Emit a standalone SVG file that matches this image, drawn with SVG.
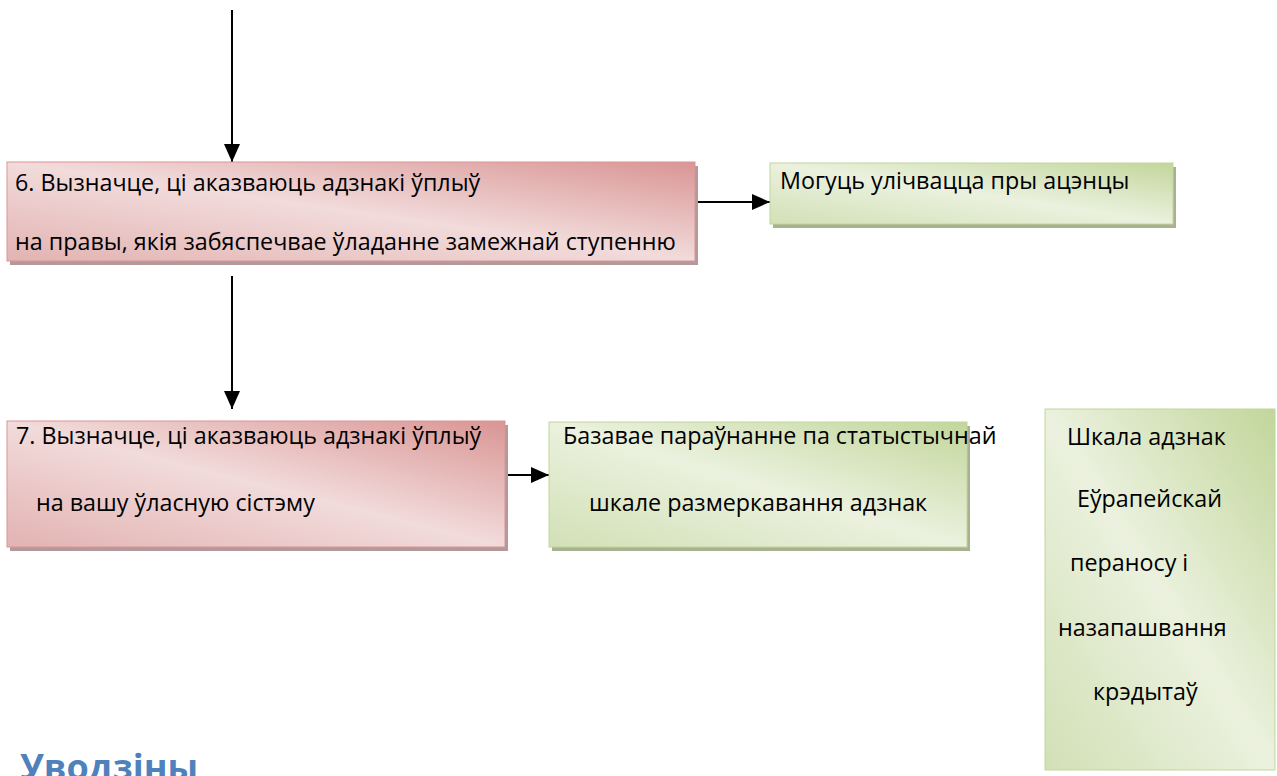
<svg xmlns="http://www.w3.org/2000/svg" width="1277" height="776" viewBox="0 0 1277 776">
<style>
.t{font-family:"Open Sans","Noto Sans","DejaVu Sans",sans-serif;font-size:23.3px;fill:#000}
.pink{fill:url(#gp);stroke:#d99594;stroke-width:1}
.green{fill:url(#gg);stroke:#c2d69b;stroke-width:1}
.shp{fill:#b39999}
.shg{fill:#a9b193}
.c{stroke:#000;stroke-width:2;fill:none;marker-end:url(#ah)}
.h{font-family:"Open Sans","Noto Sans",sans-serif;font-size:36px;font-weight:bold;fill:#4f81bd}
</style>
<defs>
<linearGradient id="gp" x1="1" y1="0" x2="0" y2="1">
<stop offset="0" stop-color="#d99594"/>
<stop offset="0.5" stop-color="#f2dbdb"/>
<stop offset="1" stop-color="#e2b3b2"/>
</linearGradient>
<linearGradient id="gg" x1="1" y1="0" x2="0" y2="1">
<stop offset="0" stop-color="#c2d69b"/>
<stop offset="0.5" stop-color="#ebf1de"/>
<stop offset="1" stop-color="#d2e0b6"/>
</linearGradient>
<marker id="ah" markerUnits="userSpaceOnUse" markerWidth="18" markerHeight="16" refX="18" refY="8" orient="auto">
<path d="M0,0 L18,8 L0,16 Z" fill="#000"/>
</marker>
</defs>
<g id="connectors">
<line class="c" x1="232" y1="10" x2="232" y2="162"/>
<line class="c" x1="695" y1="202" x2="770" y2="202"/>
<line class="c" x1="232" y1="276" x2="232" y2="409"/>
<line class="c" x1="505" y1="475" x2="549" y2="475"/>
</g>
<g id="node6">
<rect class="shp" x="10" y="166" width="688" height="99"/>
<rect class="pink" x="7" y="162" width="688" height="99"/>
<text class="t" x="15" y="191">6. Вызначце, ці аказваюць адзнакі ўплыў</text>
<text class="t" x="15" y="250">на правы, якія забяспечвае ўладанне замежнай ступенню</text>
</g>
<g id="node-mogucz">
<rect class="shg" x="773" y="167" width="403" height="61"/>
<rect class="green" x="770" y="163" width="403" height="61"/>
<text class="t" x="780" y="189">Могуць улічвацца пры ацэнцы</text>
</g>
<g id="node7">
<rect class="shp" x="10" y="425" width="498" height="126"/>
<rect class="pink" x="7" y="421" width="498" height="126"/>
<text class="t" x="16" y="444">7. Вызначце, ці аказваюць адзнакі ўплыў</text>
<text class="t" x="36" y="511">на вашу ўласную сістэму</text>
</g>
<g id="node-bazavae">
<rect class="shg" x="552" y="426" width="418" height="125"/>
<rect class="green" x="549" y="422" width="418" height="125"/>
<text class="t" x="563" y="444">Базавае параўнанне па статыстычнай</text>
<text class="t" x="589" y="511">шкале размеркавання адзнак</text>
</g>
<g id="node-shkala">
<rect class="green" x="1045" y="409" width="230" height="361"/>
<text class="t" x="1067" y="445">Шкала адзнак</text>
<text class="t" x="1077" y="507">Еўрапейскай</text>
<text class="t" x="1070" y="571">пераносу і</text>
<text class="t" x="1058" y="636">назапашвання</text>
<text class="t" x="1093" y="700">крэдытаў</text>
</g>
<text class="h" x="20" y="780">Уводзіны</text>
</svg>
